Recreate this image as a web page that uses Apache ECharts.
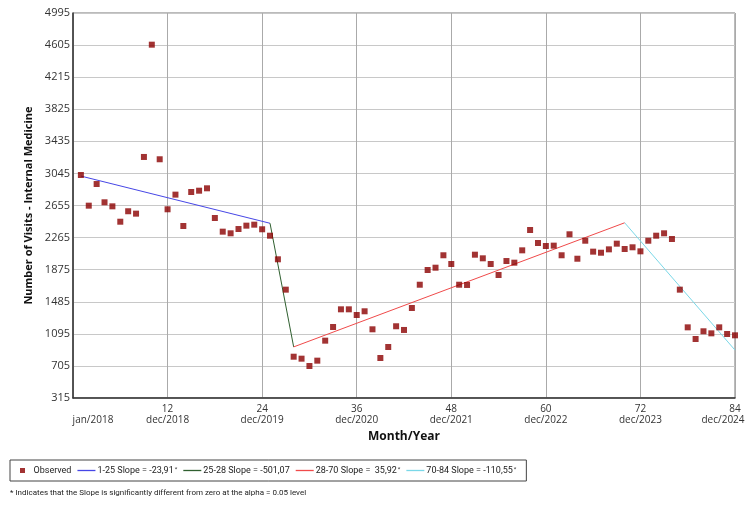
<!DOCTYPE html>
<html>
<head>
<meta charset="utf-8">
<script src="https://cdn.jsdelivr.net/npm/echarts@6/dist/echarts.min.js"></script>
<style>
html, body { margin: 0; padding: 0; background: #fff; }
#chart { width: 750px; height: 508px; }
</style>
</head>
<body>
<div id="chart"></div>
<script>
// observed monthly visits, month 1 (jan/2018) .. month 84 (dec/2024)
var visits = [3026, 2653, 2916, 2694, 2645, 2458, 2585, 2556, 3245, 4610,
	3217, 2609, 2787, 2406, 2819, 2835, 2864, 2503, 2337, 2317,
	2369, 2410, 2422, 2366, 2288, 2001, 1632, 817, 793, 704,
	769, 1012, 1178, 1393, 1393, 1324, 1369, 1150, 801, 935,
	1187, 1142, 1409, 1692, 1871, 1899, 2050, 1944, 1692, 1689,
	2057, 2013, 1944, 1810, 1980, 1960, 2110, 2357, 2199, 2163,
	2167, 2050, 2305, 2008, 2227, 2094, 2081, 2122, 2191, 2126,
	2147, 2098, 2227, 2288, 2317, 2248, 1632, 1174, 1032, 1126,
	1101, 1174, 1093, 1077];

// joinpoint segments [month, fitted value]
var seg1 = [[1, 3013], [25, 2439]];
var seg2 = [[25, 2439], [28, 936]];
var seg3 = [[28, 936], [70, 2445]];
var seg4 = [[70, 2445], [84, 897]];

var segNames = ['1-25 Slope = -23,91{s|*}', '25-28 Slope = -501,07', '28-70 Slope =  35,92{s|*}', '70-84 Slope = -110,55{s|*}'];
var segColors = ['#4646e6', '#2f5f2f', '#f04a4a', '#7ad8e8'];

var yTicks = [315, 4995, 390]; // min, max, step
var xTicks = [0, 84, 12];

var observed = [];
for (var i = 0; i < visits.length; i++) {
	observed.push([i + 1, visits[i]]);
}

var font = 'Open Sans';
var smallFont = 'Roboto';
var myChart = echarts.init(document.getElementById('chart'));

function lineSeries(name, data, color) {
	return {
		name: name,
		type: 'line',
		data: data,
		symbol: 'none',
		silent: true,
		lineStyle: { color: color, width: 1 },
		itemStyle: { color: color },
		z: 2
	};
}

//图例里的线段图标（细长矩形）
var lineIcon = 'path://M0,0h18v1.3h-18z';

var option = {
	animation: false,
	backgroundColor: '#fff',
	textStyle: { fontFamily: font },
	grid: {
		left: 73, right: 15, top: 13, bottom: 110,
		outerBoundsMode: 'none',
		containLabel: false,
		show: true, borderColor: '#777', borderWidth: 1
	},
	xAxis: {
		type: 'value',
		min: xTicks[0], max: xTicks[1], interval: xTicks[2],
		name: 'Month/Year',
		nameLocation: 'middle',
		nameGap: 21,
		nameTextStyle: { fontFamily: font, fontWeight: 'bold', fontSize: 12, color: '#111' },
		axisLine: { lineStyle: { color: '#333', width: 1.5 } },
		axisTick: { show: false },
		axisLabel: {
			margin: 6,
			color: '#333',
			fontSize: 10,
			lineHeight: 11,
			formatter: function (v) {
				if (v === 0) return '{e|}\n{j|jan/2018}';
				if (v === 84) return '{n|' + v + '}\n{r|dec/' + (2017 + v / 12) + '}';
				return v + '\ndec/' + (2017 + v / 12);
			},
			rich: {
				e: { fontSize: 10, lineHeight: 11 },
				j: { fontSize: 10, lineHeight: 11, padding: [0, 0, 0, 40], color: '#333' },
				n: { fontSize: 10, lineHeight: 11, color: '#333' },
				r: { fontSize: 10, lineHeight: 11, padding: [0, 24, 0, 0], color: '#333' }
			}
		},
		splitLine: { show: true, lineStyle: { color: '#aaa', width: 1 } }
	},
	yAxis: {
		type: 'value',
		min: yTicks[0], max: yTicks[1], interval: yTicks[2],
		name: 'Number of Visits - Internal Medicine',
		nameLocation: 'middle',
		nameGap: 39,
		nameTextStyle: { fontFamily: font, fontWeight: 'bold', fontSize: 11, color: '#111' },
		axisLine: { show: true, lineStyle: { color: '#333', width: 1.5 } },
		axisTick: { show: false },
		axisLabel: {
			margin: 3, color: '#333', fontSize: 11,
			formatter: function (v) { return String(v); }
		},
		splitLine: { lineStyle: { color: '#c8c8c8', width: 1 } }
	},
	legend: {
		left: 10, top: 460,
		orient: 'horizontal',
		padding: [6, 10],
		itemGap: 6,
		itemWidth: 18,
		itemHeight: 5,
		borderColor: '#444',
		borderWidth: 1,
		textStyle: {
			fontFamily: smallFont, fontSize: 9, color: '#222',
			padding: [0, 0, 0, -3],
			rich: { s: { fontFamily: smallFont, fontSize: 6, verticalAlign: 'top', padding: [0, 0, 3, 1] } }
		},
		data: [
			{ name: 'Observed', icon: 'path://M0,0h10v10h-10z' },
			{ name: segNames[0], icon: lineIcon },
			{ name: segNames[1], icon: lineIcon },
			{ name: segNames[2], icon: lineIcon },
			{ name: segNames[3], icon: lineIcon }
		]
	},
	graphic: [{
		type: 'text',
		left: 10, top: 489,
		style: {
			text: '* Indicates that the Slope is significantly different from zero at the alpha = 0.05 level',
			font: '8px ' + smallFont,
			fill: '#222'
		}
	}],
	series: [
		{
			name: 'Observed',
			type: 'scatter',
			data: observed,
			symbol: 'rect',
			symbolSize: 6,
			itemStyle: { color: '#8b0000' },
			z: 3
		},
		lineSeries(segNames[0], seg1, segColors[0]),
		lineSeries(segNames[1], seg2, segColors[1]),
		lineSeries(segNames[2], seg3, segColors[2]),
		lineSeries(segNames[3], seg4, segColors[3])
	]
};

myChart.setOption(option);
window.onresize = myChart.resize;
</script>
</body>
</html>
